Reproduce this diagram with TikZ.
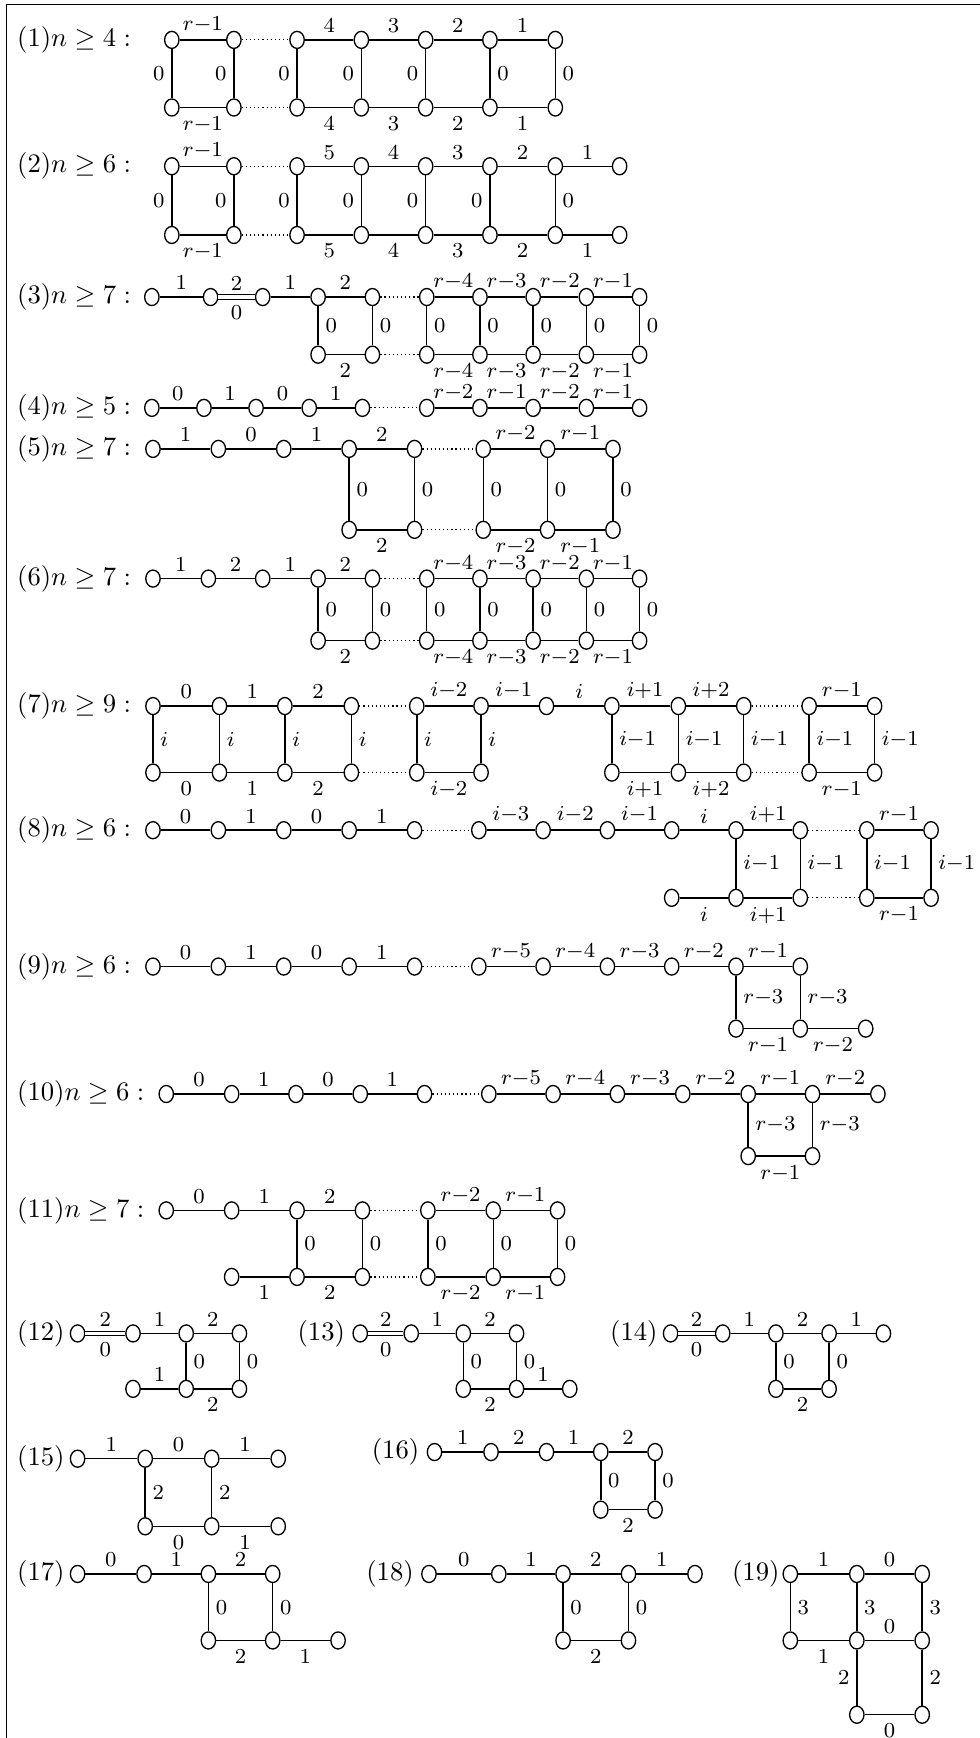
\documentclass[tikz,border=0pt]{standalone}
\usetikzlibrary{shapes.geometric}
\begin{document}
\begin{tikzpicture}[x=0.4157pt,y=-0.4157pt,
 v/.style={draw,ellipse,minimum width=5.4pt,minimum height=6.4pt,inner sep=0pt,line width=0.5pt},
 e/.style={line width=0.55pt},
 dt/.style={line width=0.45pt,dash pattern=on 0.45pt off 1.1pt},
 dbl/.style={line width=0.45pt,double,double distance=1.2pt},
 la/.style={font=\footnotesize,inner sep=0.5pt,above,yshift=1.9pt},
 lb/.style={font=\footnotesize,inner sep=0.5pt,below,yshift=-2.7pt},
 lr/.style={font=\footnotesize,inner sep=2.5pt,right},
 ll/.style={font=\footnotesize,inner sep=2.5pt,left},
 ttl/.style={anchor=west,inner sep=0pt}]
\useasboundingbox (0,0) rectangle (884,1568);
\draw[line width=0.5pt] (6,1580) -- (6,4) -- (900,4);

% ---------- (1)
\node[ttl] (tA) at (15,36) {$(1)n\geq 4:$};
\foreach \n/\x in {1/155,2/211,3/268,4/326,5/384,6/442,7/501}{\node[v] (At\n) at (\x,36) {}; \node[v] (Ab\n) at (\x,97) {};}
\draw[e] (At1) -- node[la]{$r{-}1$} (At2);
\draw[e] (Ab1) -- node[lb]{$r{-}1$} (Ab2);
\draw[dt] (At2) -- (At3); \draw[dt] (Ab2) -- (Ab3);
\foreach \a/\b/\q in {3/4/4,4/5/3,5/6/2,6/7/1}{\draw[e] (At\a) -- node[la]{$\q$} (At\b); \draw[e] (Ab\a) -- node[lb]{$\q$} (Ab\b);}
\foreach \n in {1,...,5}{\draw[e] (At\n) -- node[ll]{$0$} (Ab\n);}
\foreach \n in {6,7}{\draw[e] (At\n) -- node[lr]{$0$} (Ab\n);}

% ---------- (2)
\node[ttl] (tB) at (15,150) {$(2)n\geq 6:$};
\foreach \n/\x in {1/155,2/211,3/268,4/326,5/384,6/442,7/501,8/559}{\node[v] (Bt\n) at (\x,150) {}; \node[v] (Bb\n) at (\x,212) {};}
\draw[e] (Bt1) -- node[la]{$r{-}1$} (Bt2);
\draw[e] (Bb1) -- node[lb]{$r{-}1$} (Bb2);
\draw[dt] (Bt2) -- (Bt3); \draw[dt] (Bb2) -- (Bb3);
\foreach \a/\b/\q in {3/4/5,4/5/4,5/6/3,6/7/2,7/8/1}{\draw[e] (Bt\a) -- node[la]{$\q$} (Bt\b); \draw[e] (Bb\a) -- node[lb]{$\q$} (Bb\b);}
\foreach \n in {1,...,6}{\draw[e] (Bt\n) -- node[ll]{$0$} (Bb\n);}
\draw[e] (Bt7) -- node[lr]{$0$} (Bb7);

% ---------- (3)
\node[ttl] (tC) at (15,268) {$(3)n\geq 7:$};
\foreach \n/\x in {1/137,2/190,3/237,4/287,5/336,6/385,7/433,8/481,9/529,10/577}{\node[v] (Ct\n) at (\x,268) {};}
\foreach \n/\x in {4/287,5/336,6/385,7/433,8/481,9/529,10/577}{\node[v] (Cb\n) at (\x,320) {};}
\draw[e] (Ct1) -- node[la]{$1$} (Ct2);
\draw[dbl] (Ct2) -- node[la]{$2$} node[lb]{$0$} (Ct3);
\draw[e] (Ct3) -- node[la]{$1$} (Ct4);
\draw[e] (Ct4) -- node[la]{$2$} (Ct5);
\draw[e] (Cb4) -- node[lb]{$2$} (Cb5);
\draw[dt] (Ct5) -- (Ct6); \draw[dt] (Cb5) -- (Cb6);
\foreach \a/\b/\q in {6/7/4,7/8/3,8/9/2,9/10/1}{\draw[e] (Ct\a) -- node[la]{$r{-}\q$} (Ct\b); \draw[e] (Cb\a) -- node[lb]{$r{-}\q$} (Cb\b);}
\foreach \n in {4,...,10}{\draw[e] (Ct\n) -- node[lr]{$0$} (Cb\n);}

% ---------- (4)
\node[ttl] (tD) at (15,368) {$(4)n\geq 5:$};
\foreach \n/\x in {1/137,2/184,3/231,4/279,5/327,6/385,7/433,8/481,9/529,10/577}{\node[v] (D\n) at (\x,368) {};}
\foreach \a/\b/\q in {1/2/0,2/3/1,3/4/0,4/5/1}{\draw[e] (D\a) -- node[la]{$\q$} (D\b);}
\draw[dt] (D5) -- (D6);
\foreach \a/\b/\q in {6/7/2,7/8/1,8/9/2,9/10/1}{\draw[e] (D\a) -- node[la]{$r{-}\q$} (D\b);}

% ---------- (5)
\node[ttl] (tE) at (15,405) {$(5)n\geq 7:$};
\foreach \n/\x in {1/138,2/197,3/256,4/315,5/374,6/436,7/494,8/553}{\node[v] (Et\n) at (\x,405) {};}
\foreach \n/\x in {4/315,5/374,6/436,7/494,8/553}{\node[v] (Eb\n) at (\x,478) {};}
\foreach \a/\b/\q in {1/2/1,2/3/0,3/4/1,4/5/2}{\draw[e] (Et\a) -- node[la]{$\q$} (Et\b);}
\draw[e] (Eb4) -- node[lb]{$2$} (Eb5);
\draw[dt] (Et5) -- (Et6); \draw[dt] (Eb5) -- (Eb6);
\foreach \a/\b/\q in {6/7/2,7/8/1}{\draw[e] (Et\a) -- node[la]{$r{-}\q$} (Et\b); \draw[e] (Eb\a) -- node[lb]{$r{-}\q$} (Eb\b);}
\foreach \n in {4,...,8}{\draw[e] (Et\n) -- node[lr]{$0$} (Eb\n);}

% ---------- (6)
\node[ttl] (tF) at (15,522) {$(6)n\geq 7:$};
\foreach \n/\x in {1/138,2/188,3/237,4/287,5/336,6/385,7/433,8/481,9/529,10/577}{\node[v] (Ft\n) at (\x,522) {};}
\foreach \n/\x in {4/287,5/336,6/385,7/433,8/481,9/529,10/577}{\node[v] (Fb\n) at (\x,578) {};}
\foreach \a/\b/\q in {1/2/1,2/3/2,3/4/1,4/5/2}{\draw[e] (Ft\a) -- node[la]{$\q$} (Ft\b);}
\draw[e] (Fb4) -- node[lb]{$2$} (Fb5);
\draw[dt] (Ft5) -- (Ft6); \draw[dt] (Fb5) -- (Fb6);
\foreach \a/\b/\q in {6/7/4,7/8/3,8/9/2,9/10/1}{\draw[e] (Ft\a) -- node[la]{$r{-}\q$} (Ft\b); \draw[e] (Fb\a) -- node[lb]{$r{-}\q$} (Fb\b);}
\foreach \n in {4,...,10}{\draw[e] (Ft\n) -- node[lr]{$0$} (Fb\n);}

% ---------- (7)
\node[ttl] (tG) at (15,637) {$(7)n\geq 9:$};
\foreach \n/\x in {1/138,2/198,3/257,4/317,5/376,6/434,7/493,8/552,9/612,10/671,11/730,12/789}{\node[v] (Gt\n) at (\x,637) {};}
\foreach \n/\x in {1/138,2/198,3/257,4/317,5/376,6/434,8/552,9/612,10/671,11/730,12/789}{\node[v] (Gb\n) at (\x,697) {};}
\foreach \a/\b/\q in {1/2/0,2/3/1,3/4/2}{\draw[e] (Gt\a) -- node[la]{$\q$} (Gt\b); \draw[e] (Gb\a) -- node[lb]{$\q$} (Gb\b);}
\draw[dt] (Gt4) -- (Gt5); \draw[dt] (Gb4) -- (Gb5);
\draw[e] (Gt5) -- node[la]{$i{-}2$} (Gt6);
\draw[e] (Gb5) -- node[lb]{$i{-}2$} (Gb6);
\draw[e] (Gt6) -- node[la]{$i{-}1$} (Gt7);
\draw[e] (Gt7) -- node[la]{$i$} (Gt8);
\draw[e] (Gt8) -- node[la]{$i{+}1$} (Gt9);
\draw[e] (Gb8) -- node[lb]{$i{+}1$} (Gb9);
\draw[e] (Gt9) -- node[la]{$i{+}2$} (Gt10);
\draw[e] (Gb9) -- node[lb]{$i{+}2$} (Gb10);
\draw[dt] (Gt10) -- (Gt11); \draw[dt] (Gb10) -- (Gb11);
\draw[e] (Gt11) -- node[la]{$r{-}1$} (Gt12);
\draw[e] (Gb11) -- node[lb]{$r{-}1$} (Gb12);
\foreach \n in {1,...,6}{\draw[e] (Gt\n) -- node[lr]{$i$} (Gb\n);}
\foreach \n in {8,...,12}{\draw[e] (Gt\n) -- node[lr]{$i{-}1$} (Gb\n);}

% ---------- (8)
\node[ttl] (tH) at (15,749) {$(8)n\geq 6:$};
\foreach \n/\x in {1/138,2/197,3/256,4/315,5/374,6/432,7/490,8/548,9/606,10/664,11/722,12/782,13/840}{\node[v] (Ht\n) at (\x,749) {};}
\foreach \n/\x in {9/606,10/664,11/722,12/782,13/840}{\node[v] (Hb\n) at (\x,810) {};}
\foreach \a/\b/\q in {1/2/0,2/3/1,3/4/0,4/5/1}{\draw[e] (Ht\a) -- node[la]{$\q$} (Ht\b);}
\draw[dt] (Ht5) -- (Ht6);
\draw[e] (Ht6) -- node[la]{$i{-}3$} (Ht7);
\draw[e] (Ht7) -- node[la]{$i{-}2$} (Ht8);
\draw[e] (Ht8) -- node[la]{$i{-}1$} (Ht9);
\draw[e] (Ht9) -- node[la]{$i$} (Ht10);
\draw[e] (Ht10) -- node[la]{$i{+}1$} (Ht11);
\draw[dt] (Ht11) -- (Ht12);
\draw[e] (Ht12) -- node[la]{$r{-}1$} (Ht13);
\draw[e] (Hb9) -- node[lb]{$i$} (Hb10);
\draw[e] (Hb10) -- node[lb]{$i{+}1$} (Hb11);
\draw[dt] (Hb11) -- (Hb12);
\draw[e] (Hb12) -- node[lb]{$r{-}1$} (Hb13);
\foreach \n in {10,...,13}{\draw[e] (Ht\n) -- node[lr]{$i{-}1$} (Hb\n);}

% ---------- (9)
\node[ttl] (tI) at (15,872) {$(9)n\geq 6:$};
\foreach \n/\x in {1/138,2/197,3/256,4/315,5/374,6/432,7/490,8/548,9/606,10/664,11/722}{\node[v] (It\n) at (\x,872) {};}
\foreach \n/\x in {10/664,11/722,12/781}{\node[v] (Ib\n) at (\x,928) {};}
\foreach \a/\b/\q in {1/2/0,2/3/1,3/4/0,4/5/1}{\draw[e] (It\a) -- node[la]{$\q$} (It\b);}
\draw[dt] (It5) -- (It6);
\foreach \a/\b/\q in {6/7/5,7/8/4,8/9/3,9/10/2,10/11/1}{\draw[e] (It\a) -- node[la]{$r{-}\q$} (It\b);}
\foreach \n in {10,11}{\draw[e] (It\n) -- node[lr]{$r{-}3$} (Ib\n);}
\draw[e] (Ib10) -- node[lb]{$r{-}1$} (Ib11);
\draw[e] (Ib11) -- node[lb]{$r{-}2$} (Ib12);

% ---------- (10)
\node[ttl] (tJ) at (15,987) {$(10)n\geq 6:$};
\foreach \n/\x in {1/150,2/209,3/267,4/325,5/383,6/441,7/499,8/557,9/616,10/675,11/733,12/792}{\node[v] (Jt\n) at (\x,987) {};}
\foreach \n/\x in {10/675,11/733}{\node[v] (Jb\n) at (\x,1043) {};}
\foreach \a/\b/\q in {1/2/0,2/3/1,3/4/0,4/5/1}{\draw[e] (Jt\a) -- node[la]{$\q$} (Jt\b);}
\draw[dt] (Jt5) -- (Jt6);
\foreach \a/\b/\q in {6/7/5,7/8/4,8/9/3,9/10/2,10/11/1,11/12/2}{\draw[e] (Jt\a) -- node[la]{$r{-}\q$} (Jt\b);}
\foreach \n in {10,11}{\draw[e] (Jt\n) -- node[lr]{$r{-}3$} (Jb\n);}
\draw[e] (Jb10) -- node[lb]{$r{-}1$} (Jb11);

% ---------- (11)
\node[ttl] (tK) at (15,1092) {$(11)n\geq 7:$};
\foreach \n/\x in {1/150,2/209,3/268,4/327,5/386,6/445,7/503}{\node[v] (Kt\n) at (\x,1092) {};}
\foreach \n/\x in {2/209,3/268,4/327,5/386,6/445,7/503}{\node[v] (Kb\n) at (\x,1152) {};}
\foreach \a/\b/\q in {1/2/0,2/3/1,3/4/2}{\draw[e] (Kt\a) -- node[la]{$\q$} (Kt\b);}
\foreach \a/\b/\q in {2/3/1,3/4/2}{\draw[e] (Kb\a) -- node[lb]{$\q$} (Kb\b);}
\draw[dt] (Kt4) -- (Kt5); \draw[dt] (Kb4) -- (Kb5);
\foreach \a/\b/\q in {5/6/2,6/7/1}{\draw[e] (Kt\a) -- node[la]{$r{-}\q$} (Kt\b); \draw[e] (Kb\a) -- node[lb]{$r{-}\q$} (Kb\b);}
\foreach \n in {3,...,7}{\draw[e] (Kt\n) -- node[lr]{$0$} (Kb\n);}

% ---------- (12)
\node[ttl] (tL) at (15,1203) {(12)};
\foreach \n/\x in {1/70,2/120,3/168,4/216}{\node[v] (Lt\n) at (\x,1203) {};}
\foreach \n/\x in {2/120,3/168,4/216}{\node[v] (Lb\n) at (\x,1253) {};}
\draw[dbl] (Lt1) -- node[la]{$2$} node[lb]{$0$} (Lt2);
\draw[e] (Lt2) -- node[la]{$1$} (Lt3);
\draw[e] (Lt3) -- node[la]{$2$} (Lt4);
\draw[e] (Lb2) -- node[la]{$1$} (Lb3);
\draw[e] (Lb3) -- node[lb]{$2$} (Lb4);
\foreach \n in {3,4}{\draw[e] (Lt\n) -- node[lr]{$0$} (Lb\n);}

% ---------- (13)
\node[ttl] (tM) at (268,1203) {(13)};
\foreach \n/\x in {1/325,2/371,3/418,4/466}{\node[v] (Mt\n) at (\x,1203) {};}
\foreach \n/\x in {3/418,4/466,5/514}{\node[v] (Mb\n) at (\x,1253) {};}
\draw[dbl] (Mt1) -- node[la]{$2$} node[lb]{$0$} (Mt2);
\draw[e] (Mt2) -- node[la]{$1$} (Mt3);
\draw[e] (Mt3) -- node[la]{$2$} (Mt4);
\draw[e] (Mb3) -- node[lb]{$2$} (Mb4);
\draw[e] (Mb4) -- node[la]{$1$} (Mb5);
\foreach \n in {3,4}{\draw[e] (Mt\n) -- node[lr]{$0$} (Mb\n);}

% ---------- (14)
\node[ttl] (tN) at (550,1203) {(14)};
\foreach \n/\x in {1/605,2/652,3/700,4/748,5/797}{\node[v] (Nt\n) at (\x,1203) {};}
\foreach \n/\x in {3/700,4/748}{\node[v] (Nb\n) at (\x,1253) {};}
\draw[dbl] (Nt1) -- node[la]{$2$} node[lb]{$0$} (Nt2);
\draw[e] (Nt2) -- node[la]{$1$} (Nt3);
\draw[e] (Nt3) -- node[la]{$2$} (Nt4);
\draw[e] (Nt4) -- node[la]{$1$} (Nt5);
\draw[e] (Nb3) -- node[lb]{$2$} (Nb4);
\foreach \n in {3,4}{\draw[e] (Nt\n) -- node[lr]{$0$} (Nb\n);}

% ---------- (15)
\node[ttl] (tO) at (15,1316) {(15)};
\foreach \n/\x in {1/70,2/131,3/191,4/251}{\node[v] (Ot\n) at (\x,1316) {};}
\foreach \n/\x in {2/131,3/191,4/251}{\node[v] (Ob\n) at (\x,1377) {};}
\foreach \a/\b/\q in {1/2/1,2/3/0,3/4/1}{\draw[e] (Ot\a) -- node[la]{$\q$} (Ot\b);}
\foreach \a/\b/\q in {2/3/0,3/4/1}{\draw[e] (Ob\a) -- node[lb]{$\q$} (Ob\b);}
\foreach \n in {2,3}{\draw[e] (Ot\n) -- node[lr]{$2$} (Ob\n);}

% ---------- (16)
\node[ttl] (tP) at (335,1310) {(16)};
\foreach \n/\x in {1/392,2/443,3/493,4/542,5/591}{\node[v] (Pt\n) at (\x,1310) {};}
\foreach \n/\x in {4/542,5/591}{\node[v] (Pb\n) at (\x,1362) {};}
\foreach \a/\b/\q in {1/2/1,2/3/2,3/4/1,4/5/2}{\draw[e] (Pt\a) -- node[la]{$\q$} (Pt\b);}
\draw[e] (Pb4) -- node[lb]{$2$} (Pb5);
\foreach \n in {4,5}{\draw[e] (Pt\n) -- node[lr]{$0$} (Pb\n);}

% ---------- (17)
\node[ttl] (tQ) at (15,1420) {(17)};
\foreach \n/\x in {1/70,2/130,3/188,4/246}{\node[v] (Qt\n) at (\x,1420) {};}
\foreach \n/\x in {3/188,4/246,5/305}{\node[v] (Qb\n) at (\x,1480) {};}
\foreach \a/\b/\q in {1/2/0,2/3/1,3/4/2}{\draw[e] (Qt\a) -- node[la]{$\q$} (Qt\b);}
\foreach \a/\b/\q in {3/4/2,4/5/1}{\draw[e] (Qb\a) -- node[lb]{$\q$} (Qb\b);}
\foreach \n in {3,4}{\draw[e] (Qt\n) -- node[lr]{$0$} (Qb\n);}

% ---------- (18)
\node[ttl] (tR) at (330,1420) {(18)};
\foreach \n/\x in {1/387,2/450,3/508,4/567,5/627}{\node[v] (Rt\n) at (\x,1420) {};}
\foreach \n/\x in {3/508,4/567}{\node[v] (Rb\n) at (\x,1480) {};}
\foreach \a/\b/\q in {1/2/0,2/3/1,3/4/2,4/5/1}{\draw[e] (Rt\a) -- node[la]{$\q$} (Rt\b);}
\draw[e] (Rb3) -- node[lb]{$2$} (Rb4);
\foreach \n in {3,4}{\draw[e] (Rt\n) -- node[lr]{$0$} (Rb\n);}

% ---------- (19)
\node[ttl] (tS) at (660,1420) {(19)};
\foreach \n/\x in {1/713,2/773,3/832}{\node[v] (St\n) at (\x,1420) {}; \node[v] (Sm\n) at (\x,1480) {};}
\foreach \n/\x in {2/773,3/832}{\node[v] (Sb\n) at (\x,1547) {};}
\draw[e] (St1) -- node[la]{$1$} (St2);
\draw[e] (St2) -- node[la]{$0$} (St3);
\foreach \n in {1,2,3}{\draw[e] (St\n) -- node[lr]{$3$} (Sm\n);}
\draw[e] (Sm1) -- node[lb]{$1$} (Sm2);
\draw[e] (Sm2) -- node[la]{$0$} (Sm3);
\draw[e] (Sm2) -- node[ll]{$2$} (Sb2);
\draw[e] (Sm3) -- node[lr]{$2$} (Sb3);
\draw[e] (Sb2) -- node[lb]{$0$} (Sb3);
\end{tikzpicture}
\end{document}
